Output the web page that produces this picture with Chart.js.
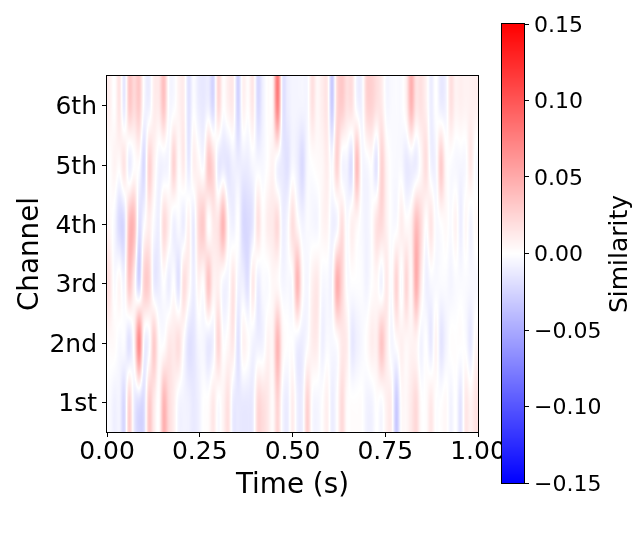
<!DOCTYPE html>
<html>
<head>
<meta charset="utf-8">
<script src="https://cdn.jsdelivr.net/npm/chart.js@4"></script>
<style>
  body { margin: 0; background: #fff; }
  canvas { position: absolute; left: 0; top: 0; }
</style>
</head>
<body>
<canvas id="heat" width="640" height="546"></canvas>
<canvas id="bar" width="640" height="546"></canvas>
<script>
const channels = ['1st', '2nd', '3rd', '4th', '5th', '6th'];
const timeTicks = [0, 0.25, 0.5, 0.75, 1];
const barTicks = [-0.15, -0.1, -0.05, 0, 0.05, 0.1, 0.15];

// readings, 75 time steps per channel
const ch1 = [
  -3,-10,-8,-25,30,-12,-22,-22,35,15,2,50,25,12,-6,
  -8,-10,-15,-10,0,2,15,-2,8,20,-12,-15,-15,-15,-12,
  25,22,15,3,30,-5,-12,12,-10,-10,30,-2,-6,0,10,
  -12,0,25,3,1,1,1,-8,-8,1,-3,10,10,-35,2,
  5,15,25,2,2,15,0,0,4,-8,0,-18,15,8,18];
const ch2 = [
  4,3,-4,-3,-20,8,80,-5,-5,35,3,0,15,15,22,
  0,-20,-18,-6,-6,-15,-8,28,0,5,15,-20,8,2,-8,
  -10,-8,8,8,50,8,0,0,-10,-12,-2,12,12,-10,-3,
  -5,0,15,12,-15,-10,-5,2,12,12,40,15,-6,2,10,
  5,8,8,-8,0,-15,8,-18,-8,1,1,1,-2,-15,5];
const ch3 = [
  20,-3,6,-6,38,10,-28,30,30,-12,-12,0,-12,0,-20,
  22,8,-12,8,2,40,10,10,-6,-6,18,-8,-10,-20,15,
  -12,-3,-3,5,4,-6,-4,0,50,5,-6,10,15,-4,-4,
  -4,55,30,-1,-1,-1,-2,-8,0,5,-8,15,-2,30,-3,
  28,5,55,14,-10,-5,-4,-3,-3,-7,-3,-3,-3,-5,-5];
const ch4 = [
  5,-5,-25,-22,45,45,-20,-2,12,-3,-10,25,10,-10,-3,
  -12,10,-14,25,35,0,15,20,50,2,-10,0,-25,-25,-15,
  20,2,12,15,25,-10,-4,22,5,-8,-3,-5,-6,6,8,
  -10,-6,22,-3,10,5,-4,-8,0,20,25,10,-2,-3,12,
  3,10,45,25,0,18,-3,0,4,-3,8,-12,5,-8,3];
const ch5 = [
  0,8,3,18,-12,0,0,-25,30,10,-8,-8,-4,30,2,
  14,-15,10,5,-2,38,25,-14,-14,-18,-10,-12,-12,-12,-5,
  -5,-5,1,8,-8,-15,-20,-5,-12,-25,-5,0,3,5,12,
  -3,30,-5,-8,-20,45,-2,-5,0,-18,30,8,-2,-4,-4,
  -15,-12,-12,5,22,-8,-6,35,5,-2,-5,-6,-4,15,-3];
const ch6 = [
  10,0,18,-15,35,25,35,-4,-10,12,15,40,-2,-3,8,
  12,-20,-2,-12,-15,-10,-25,25,1,10,12,-30,8,1,15,
  -25,-10,2,8,85,-15,-12,-7,-7,-7,-5,20,5,12,15,
  -35,25,35,20,20,-5,-8,28,30,20,15,-5,-4,-3,-3,
  10,50,18,20,10,-12,0,-12,-8,20,8,10,8,10,10];
const rows = [ch1, ch2, ch3, ch4, ch5, ch6];

// the readings came out a bit too strong against the colour bar
const readingUnit = 0.00085;

const fontName = '"DejaVu Sans"';

// same colours as matplotlib bwr, limits +-0.15
function bwr(v) {
  let t = (v + 0.15) / 0.3;
  t = Math.max(0, Math.min(1, t));
  if (t < 0.5) return [2 * t * 255, 2 * t * 255, 255];
  return [255, (2 - 2 * t) * 255, (2 - 2 * t) * 255];
}

function cubic(a, b, c, d, f) {
  return b + 0.5 * f * (c - a + f * (2 * a - 5 * b + 4 * c - d + f * (3 * (b - c) + d - a)));
}

function pick(arr, i) {
  return arr[Math.max(0, Math.min(arr.length - 1, i))];
}

// value between the stored points
function sample(sets, t, ch) {
  const n = sets[0].data.length;
  const fx = t * n - 0.5;
  const ix = Math.floor(fx);
  const ry = ch - 1;
  const iy = Math.floor(ry);
  const col = [];
  for (let j = -1; j < 3; j++) {
    const d = pick(sets, iy + j).data;
    col.push(cubic(pick(d, ix - 1).v, pick(d, ix).v, pick(d, ix + 1).v, pick(d, ix + 2).v, fx - ix));
  }
  return cubic(col[0], col[1], col[2], col[3], ry - iy);
}

const heatPlugin = {
  id: 'heat',
  beforeDatasetsDraw(chart) {
    const a = chart.chartArea;
    const w = Math.round(a.right - a.left);
    const h = Math.round(a.bottom - a.top);
    const img = chart.ctx.createImageData(w, h);
    const sets = chart.data.datasets;
    for (let py = 0; py < h; py++) {
      const ch = chart.scales.y.getValueForPixel(a.top + py + 0.5);
      for (let px = 0; px < w; px++) {
        const t = chart.scales.x.getValueForPixel(a.left + px + 0.5);
        const c = bwr(sample(sets, t, ch));
        const k = (py * w + px) * 4;
        img.data[k] = c[0];
        img.data[k + 1] = c[1];
        img.data[k + 2] = c[2];
        img.data[k + 3] = 255;
      }
    }
    chart.ctx.putImageData(img, Math.round(a.left), Math.round(a.top));
  },
  afterDraw(chart) {
    const a = chart.chartArea;
    chart.ctx.strokeStyle = '#000';
    chart.ctx.lineWidth = 1;
    chart.ctx.strokeRect(a.left - 0.5, a.top - 0.5, a.right - a.left + 1, a.bottom - a.top + 1);
  }
};

new Chart(document.getElementById('heat'), {
  type: 'scatter',
  data: {
    datasets: rows.map((r, i) => ({
      label: channels[i],
      data: r.map((v, j) => ({ x: (j + 0.5) / r.length, y: i + 1, v: v * readingUnit })),
      pointRadius: 0
    }))
  },
  options: {
    responsive: false,
    animation: false,
    devicePixelRatio: 1,
    layout: { padding: { left: 0, top: 76, right: 162, bottom: 0 } },
    plugins: { legend: { display: false }, tooltip: { enabled: false } },
    scales: {
      x: {
        type: 'linear', min: 0, max: 1,
        afterBuildTicks: s => { s.ticks = timeTicks.map(v => ({ value: v })); },
        afterFit: s => { s.height = 114; },
        border: { display: false },
        grid: { drawOnChartArea: false, tickLength: 5, tickColor: '#000' },
        ticks: {
          color: '#000', autoSkip: false, maxRotation: 0, padding: 0,
          font: { family: fontName, size: 25 },
          callback: v => v.toFixed(2)
        },
        title: {
          display: true, text: 'Time (s)', color: '#000',
          font: { family: fontName, size: 27.8 }, padding: { top: 0, bottom: 44 }
        }
      },
      y: {
        type: 'linear', min: 0.5, max: 6.5,
        afterBuildTicks: s => { s.ticks = channels.map((c, i) => ({ value: i + 1 })); },
        afterFit: s => { s.width = 107; },
        border: { display: false },
        grid: { drawOnChartArea: false, tickLength: 5, tickColor: '#000' },
        ticks: {
          color: '#000', autoSkip: false, padding: 5, labelOffset: 2,
          font: { family: fontName, size: 25 },
          callback: v => channels[v - 1]
        },
        title: {
          display: true, text: 'Channel', color: '#000',
          font: { family: fontName, size: 27.8 }, padding: { top: 14, bottom: 0 }
        }
      }
    }
  },
  plugins: [heatPlugin]
});

// colour bar sits on top, it covers the end of the 1.00 label
const barPlugin = {
  id: 'colourbar',
  beforeDatasetsDraw(chart) {
    const a = chart.chartArea;
    const ctx = chart.ctx;
    for (let py = Math.round(a.top); py < a.bottom; py++) {
      const c = bwr(chart.scales.y.getValueForPixel(py + 0.5));
      ctx.fillStyle = 'rgb(' + c[0] + ',' + c[1] + ',' + c[2] + ')';
      ctx.fillRect(a.left, py, a.right - a.left, 1);
    }
  },
  afterDraw(chart) {
    const a = chart.chartArea;
    const ctx = chart.ctx;
    ctx.strokeStyle = '#000';
    ctx.lineWidth = 1;
    ctx.strokeRect(a.left - 0.5, a.top - 0.5, a.right - a.left + 1, a.bottom - a.top + 1);
    ctx.save();
    ctx.translate(620, 254);
    ctx.rotate(-Math.PI / 2);
    ctx.fillStyle = '#000';
    ctx.font = '25px ' + fontName;
    ctx.textAlign = 'center';
    ctx.textBaseline = 'middle';
    ctx.fillText('Similarity', 0, 0);
    ctx.restore();
  }
};

new Chart(document.getElementById('bar'), {
  type: 'scatter',
  data: { datasets: [{ data: [], pointRadius: 0 }] },
  options: {
    responsive: false,
    animation: false,
    devicePixelRatio: 1,
    layout: { padding: { left: 502, top: 24, right: 0, bottom: 63 } },
    plugins: { legend: { display: false }, tooltip: { enabled: false } },
    scales: {
      x: { type: 'linear', display: false, min: 0, max: 1 },
      y: {
        type: 'linear', position: 'right', min: -0.15, max: 0.15,
        afterBuildTicks: s => { s.ticks = barTicks.map(v => ({ value: v })); },
        afterFit: s => { s.width = 116; },
        border: { display: false },
        grid: { drawOnChartArea: false, tickLength: 5, tickColor: '#000' },
        ticks: {
          color: '#000', autoSkip: false, padding: 5, labelOffset: 2,
          font: { family: fontName, size: 22 },
          callback: v => (v < 0 ? '\u2212' : '') + Math.abs(v).toFixed(2)
        }
      }
    }
  },
  plugins: [barPlugin]
});
</script>
</body>
</html>
